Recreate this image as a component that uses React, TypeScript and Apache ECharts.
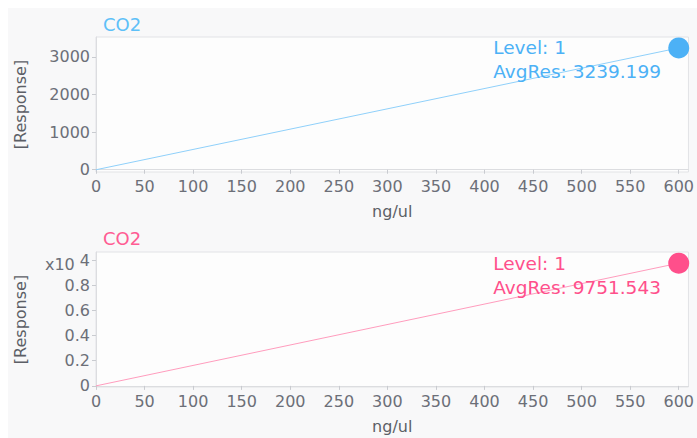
import React, { useEffect, useRef } from "react";
import * as echarts from "echarts";

// Calibration curves: response vs. amount for CO2, one level each
const compound = "CO2";
const levels = [1];
const amounts = [600]; // ng/ul at level 1
const topAvgRes = [3239.199];
const bottomAvgRes = [9751.543];

const xTicks = [0, 50, 100, 150, 200, 250, 300, 350, 400, 450, 500, 550, 600];
const topYTicks = [0, 1000, 2000, 3000];
const bottomYTicks = [0, 2000, 4000, 6000, 8000, 10000];

const BLUE = "#4cb1f6";
const BLUE_LINE = "#8fd0fa";
const PINK = "#ff4f8b";
const PINK_LINE = "#ff9cbd";
const FONT = "DejaVu Sans";
const TICK_COLOR = "#6c6f78";
const NAME_COLOR = "#5c5f66";

function xAxisFor(gridIndex: number) {
  return {
    type: "value",
    gridIndex,
    min: 0,
    max: 610,
    name: "ng/ul",
    nameLocation: "middle",
    nameGap: 31,
    nameTextStyle: { fontFamily: FONT, fontSize: 16, color: NAME_COLOR },
    axisLine: { show: true, lineStyle: { color: "#dcdde0", width: 1 } },
    axisTick: { show: true, length: 4, customValues: xTicks, lineStyle: { color: "#c9cbd0" } },
    axisLabel: {
      customValues: xTicks,
      margin: 6,
      fontFamily: FONT,
      fontSize: 16,
      color: TICK_COLOR,
    },
    splitLine: { show: false },
  };
}

function yAxisFor(gridIndex: number, min: number, max: number, ticks: number[], formatter: any, rich?: any) {
  return {
    type: "value",
    gridIndex,
    min,
    max,
    name: "[Response]",
    nameLocation: "middle",
    nameRotate: 90,
    nameGap: 68,
    nameTextStyle: { fontFamily: FONT, fontSize: 16, color: NAME_COLOR },
    axisLine: { show: true, lineStyle: { color: "#dcdde0", width: 1 } },
    axisTick: { show: true, length: 4, customValues: ticks, lineStyle: { color: "#c9cbd0" } },
    axisLabel: {
      customValues: ticks,
      margin: 6,
      fontFamily: FONT,
      fontSize: 16,
      color: TICK_COLOR,
      formatter,
      rich,
    },
    splitLine: { show: false },
  };
}

function curveSeries(idx: number, avg: number[], color: string, lineColor: string) {
  const data: any[] = [{ value: [0, 0], symbol: "none", label: { show: false } }];
  amounts.forEach((amt, i) => {
    data.push({ value: [amt, avg[i]], level: levels[i] });
  });
  return {
    type: "line",
    xAxisIndex: idx,
    yAxisIndex: idx,
    data,
    symbol: "circle",
    symbolSize: 21,
    showSymbol: true,
    itemStyle: { color },
    lineStyle: { color: lineColor, width: 1 },
    labelLayout: { hideOverlap: false, moveOverlap: false },
    label: {
      show: true,
      // block starts left of the marker, first line level with its centre
      position: [-175, -1.5],
      align: "left",
      verticalAlign: "top",
      fontFamily: FONT,
      fontSize: 18.5,
      lineHeight: 24,
      color,
      formatter: (p: any) => `Level: ${p.data.level}\nAvgRes: ${p.value[1].toFixed(3)}`,
    },
    emphasis: { disabled: true },
    z: 3,
  };
}

export default function App() {
  const ref = useRef<HTMLDivElement>(null);

  useEffect(() => {
    if (!ref.current) return;
    const chart = echarts.init(ref.current, undefined, { renderer: "svg" });
    const gridStyle = {
      show: true,
      backgroundColor: "#fdfdfd",
      borderColor: "#e2e3e6",
      borderWidth: 1,
      containLabel: false,
    };
    chart.setOption({
      animation: false,
      backgroundColor: "#ffffff",
      graphic: [
        {
          type: "rect",
          left: 8,
          top: 8,
          shape: { width: 689, height: 430 },
          style: { fill: "#f8f8f9" },
          z: -10,
          silent: true,
        },
      ],
      title: [
        {
          text: compound,
          left: 103,
          top: 15,
          padding: 0,
          textStyle: { fontFamily: FONT, fontSize: 18, fontWeight: "normal", color: "#5ec0f8" },
        },
        {
          text: compound,
          left: 103,
          top: 229,
          padding: 0,
          textStyle: { fontFamily: FONT, fontSize: 18, fontWeight: "normal", color: "#ff5c93" },
        },
      ],
      grid: [
        { ...gridStyle, left: 96, top: 37, width: 596, height: 135 },
        { ...gridStyle, left: 96, top: 252, width: 596, height: 135 },
      ],
      xAxis: [xAxisFor(0), xAxisFor(1)],
      yAxis: [
        yAxisFor(0, -60, 3530, topYTicks, (v: number) => String(v)),
        yAxisFor(
          1,
          -90,
          10640,
          bottomYTicks,
          (v: number) => (v === 10000 ? "{m|x10} {e|4}" : String(v / 10000)),
          {
            m: { fontFamily: FONT, fontSize: 16, color: TICK_COLOR, padding: [8, 0, 0, 0] },
            e: { fontFamily: FONT, fontSize: 16, color: TICK_COLOR },
          }
        ),
      ],
      series: [
        curveSeries(0, topAvgRes, BLUE, BLUE_LINE),
        curveSeries(1, bottomAvgRes, PINK, PINK_LINE),
      ],
    });
    return () => chart.dispose();
  }, []);

  return (
    <div
      ref={ref}
      style={{ position: "fixed", left: 0, top: 0, width: 697, height: 438 }}
    />
  );
}
